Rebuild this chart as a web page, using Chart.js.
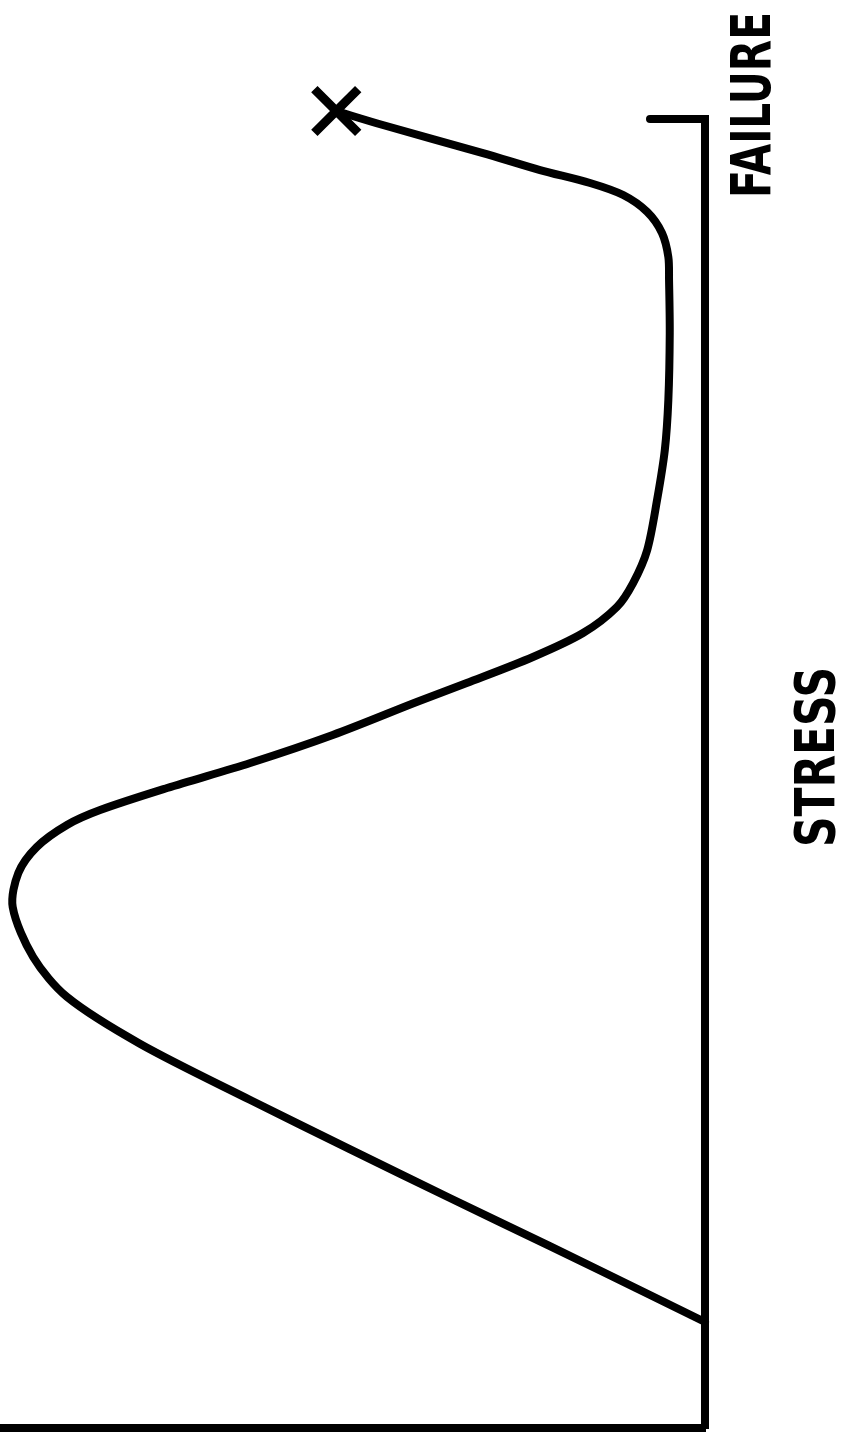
<!DOCTYPE html>
<html>
<head>
<meta charset="utf-8">
<script src="https://cdn.jsdelivr.net/npm/chart.js@4/dist/chart.umd.min.js"></script>
<style>
  html, body { margin: 0; padding: 0; background: #fff; overflow: hidden; }
  #wrap { width: 847px; height: 1436px; position: relative; }
</style>
</head>
<body>
<div id="wrap"><canvas id="chart1"></canvas></div>
<script>
// stress runs up the page, the measured value runs leftward from the stress axis
var stress = [8.10, 10.16, 13.90, 17.57, 21.31, 25.06, 29.34, 32.93, 35.98, 39.80, 42.40, 44.38,
              46.07, 47.21, 48.89, 50.80, 52.94, 55.46, 56.91, 58.90, 60.73, 62.72, 64.55, 67.07,
              70.89, 74.71, 78.53, 83.65, 87.70, 89.46, 91.29, 92.90, 94.19, 95.11, 96.10, 97.40,
              99.54, 100.61];
var response = [0, 7.8, 22.0, 36.2, 50.4, 64.5, 80.1, 90.5, 95.3, 98.2, 97.4, 94.8,
                90.5, 85.8, 76.3, 64.5, 52.8, 40.9, 33.8, 24.4, 17.3, 12.5, 10.2, 8.2,
                6.8, 5.7, 5.2, 5.0, 5.1, 5.2, 6.1, 8.2, 11.6, 16.3, 23.4, 31.5,
                45.7, 52.3];
var failureStress = 100;
var failureTick = [0, 7.8];
var axisLabels = ['FAILURE', 'STRESS'];

var curve = stress.map(function(s, i) { return { x: response[i], y: s }; });
var last = curve[curve.length - 1];

// rotated captions drawn beside the stress axis
var captions = {
    id: 'captions',
    afterDraw: function(chart) {
        var ctx = chart.ctx;
        var area = chart.chartArea;
        var yScale = chart.scales.y;
        var items = [
            { text: axisLabels[0], x: area.right + 47, y: yScale.getPixelForValue(failureStress) - 14, len: 186 },
            { text: axisLabels[1], x: area.right + 111, y: 757, len: 180 }
        ];
        ctx.save();
        ctx.fillStyle = '#000';
        ctx.font = "bold 55px 'DejaVu Sans Condensed', 'DejaVu Sans', sans-serif";
        ctx.textAlign = 'center';
        ctx.textBaseline = 'middle';
        items.forEach(function(it) {
            var w = ctx.measureText(it.text).width;
            ctx.save();
            ctx.translate(it.x, it.y);
            ctx.rotate(-Math.PI / 2);
            ctx.scale(it.len / w, 1);
            ctx.fillText(it.text, 0, 4);
            ctx.restore();
        });
        ctx.restore();
    }
};

// chart1
var ctx = document.getElementById('chart1').getContext('2d');
var myChart = new Chart(ctx, {
    type: 'scatter',
    data: {
        datasets: [{
            label: 'Curve',
            data: curve,
            showLine: true,
            borderColor: '#000',
            borderWidth: 8,
            borderCapStyle: 'round',
            borderJoinStyle: 'round',
            tension: 0.3,
            pointRadius: 0,
            clip: false
        },
        {
            label: 'Failure',
            data: failureTick.map(function(v) { return { x: v, y: failureStress }; }),
            showLine: true,
            borderColor: '#000',
            borderWidth: 8,
            borderCapStyle: 'round',
            pointRadius: 0,
            clip: false
        },
        {
            label: 'Break',
            data: [last],
            pointStyle: 'crossRot',
            pointRadius: 31,
            borderColor: '#000',
            backgroundColor: '#000',
            pointBorderWidth: 9,
            clip: false
        }]
    },
    options: {
        maintainAspectRatio: false,
        animation: false,
        events: [],
        layout: {
            autoPadding: false,
            padding: { left: 0, right: 142, top: 119, bottom: 8 }
        },
        plugins: {
            legend: { display: false },
            tooltip: { enabled: false }
        },
        scales: {
            x: {
                type: 'linear',
                position: 'bottom',
                reverse: true,
                min: 0,
                max: 100,
                ticks: { display: false },
                grid: { display: false, drawTicks: false },
                border: { display: true, color: '#000', width: 8 }
            },
            y: {
                type: 'linear',
                position: 'right',
                min: 0,
                max: failureStress,
                ticks: { display: false },
                grid: { display: false, drawTicks: false },
                border: { display: true, color: '#000', width: 8 }
            }
        }
    },
    plugins: [captions]
});
</script>
</body>
</html>
